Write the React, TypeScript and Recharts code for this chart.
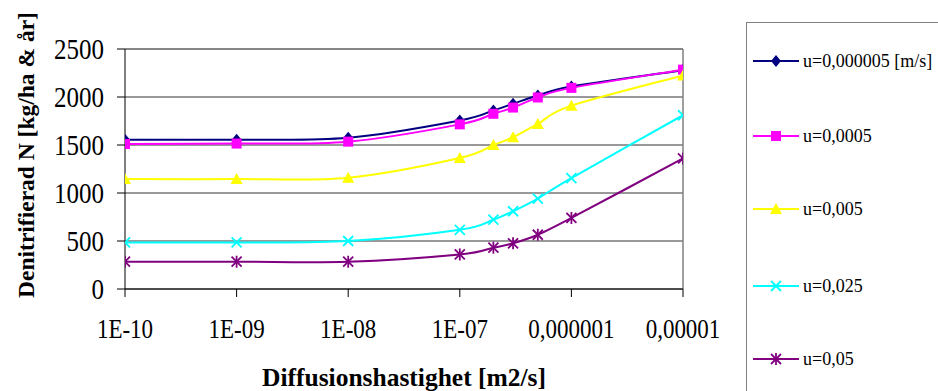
import React from 'react';
import { LineChart, Line, XAxis, YAxis, CartesianGrid, ReferenceLine, Legend, Label } from 'recharts';

const diffusion = [1e-10, 1e-9, 1e-8, 1e-7, 2e-7, 3e-7, 5e-7, 1e-6, 1e-5];
const u000005 = [1555, 1555, 1575, 1755, 1860, 1930, 2015, 2110, 2280];
const u0005 = [1510, 1515, 1535, 1715, 1825, 1890, 1995, 2095, 2285];
const u005 = [1145, 1145, 1160, 1365, 1500, 1580, 1720, 1910, 2225];
const u025 = [485, 485, 500, 617, 722, 810, 942, 1155, 1810];
const u05 = [284, 284, 284, 360, 430, 476, 565, 740, 1360];

const xTicks = [1e-10, 1e-9, 1e-8, 1e-7, 1e-6, 1e-5];
const xTickLabels = ['1E-10', '1E-09', '1E-08', '1E-07', '0,000001', '0,00001'];
const yTicks = [0, 500, 1000, 1500, 2000, 2500];

const seriesNames = ['u=0,000005 [m/s]', 'u=0,0005', 'u=0,005', 'u=0,025', 'u=0,05'];
const seriesKeys = ['s1', 's2', 's3', 's4', 's5'];
const seriesColors = ['#000080', '#FF00FF', '#FFFF00', '#00FFFF', '#800080'];
const seriesShapes = ['diamond', 'square', 'triangle', 'cross', 'star'];

const data = diffusion.map((d, i) => ({
  d,
  s1: u000005[i],
  s2: u0005[i],
  s3: u005[i],
  s4: u025[i],
  s5: u05[i],
}));

const FONT = '"Liberation Serif", "Times New Roman", serif';

// Excel-like smoothing (Catmull-Rom style cubic Bezier)
function excelCurve(context: any) {
  let pts: number[][] = [];
  return {
    areaStart() {},
    areaEnd() {},
    lineStart() {
      pts = [];
    },
    point(x: number, y: number) {
      pts.push([+x, +y]);
    },
    lineEnd() {
      const n = pts.length;
      if (n === 0) return;
      context.moveTo(pts[0][0], pts[0][1]);
      for (let i = 0; i < n - 1; i++) {
        const p0 = pts[Math.max(i - 1, 0)];
        const p1 = pts[i];
        const p2 = pts[i + 1];
        const p3 = pts[Math.min(i + 2, n - 1)];
        const c1x = p1[0] + (p2[0] - p0[0]) / 6;
        const c1y = p1[1] + (p2[1] - p0[1]) / 6;
        const c2x = p2[0] - (p3[0] - p1[0]) / 6;
        const c2y = p2[1] - (p3[1] - p1[1]) / 6;
        context.bezierCurveTo(c1x, c1y, c2x, c2y, p2[0], p2[1]);
      }
    },
  };
}

function Marker({ shape, cx, cy, color }: { shape: string; cx: number; cy: number; color: string }) {
  if (shape === 'diamond') {
    return <polygon points={`${cx},${cy - 6} ${cx + 5},${cy} ${cx},${cy + 6} ${cx - 5},${cy}`} fill={color} />;
  }
  if (shape === 'square') {
    return <rect x={cx - 5} y={cy - 5} width={10} height={10} fill={color} />;
  }
  if (shape === 'triangle') {
    return <polygon points={`${cx},${cy - 6} ${cx + 6},${cy + 5} ${cx - 6},${cy + 5}`} fill={color} />;
  }
  if (shape === 'cross') {
    return (
      <g stroke={color} strokeWidth={1.8}>
        <line x1={cx - 5} y1={cy - 5} x2={cx + 5} y2={cy + 5} />
        <line x1={cx - 5} y1={cy + 5} x2={cx + 5} y2={cy - 5} />
      </g>
    );
  }
  return (
    <g stroke={color} strokeWidth={1.8}>
      <line x1={cx - 5} y1={cy - 5} x2={cx + 5} y2={cy + 5} />
      <line x1={cx - 5} y1={cy + 5} x2={cx + 5} y2={cy - 5} />
      <line x1={cx} y1={cy - 6} x2={cx} y2={cy + 6} />
    </g>
  );
}

const makeDot = (idx: number) => (props: any) => {
  const { cx, cy, index } = props;
  if (cx == null || cy == null) return <g key={`n${idx}-${index}`} />;
  return (
    <g key={`d${idx}-${index}`}>
      <Marker shape={seriesShapes[idx]} cx={cx} cy={cy} color={seriesColors[idx]} />
    </g>
  );
};

const XTick = (props: any) => {
  const { x, y, payload } = props;
  const i = xTicks.findIndex((t) => Math.abs(Math.log10(t) - Math.log10(payload.value)) < 1e-6);
  return (
    <g transform={`translate(${x},${y})`}>
      <text transform="scale(1,1.17)" textAnchor="middle" dy="0.71em" fill="#000" fontFamily={FONT} fontSize={23}>
        {i >= 0 ? xTickLabels[i] : ''}
      </text>
    </g>
  );
};

const YTick = (props: any) => {
  const { x, y, payload } = props;
  return (
    <g transform={`translate(${x},${y})`}>
      <text transform="scale(1,1.17)" textAnchor="end" dy="0.355em" fill="#000" fontFamily={FONT} fontSize={25}>
        {payload.value}
      </text>
    </g>
  );
};

const legendTops = [60, 135, 208, 285, 358];

const renderLegend = () => (
  <div
    style={{
      position: 'relative',
      width: 192,
      height: 369,
      borderLeft: '1px solid #808080',
      borderTop: '1px solid #808080',
      boxSizing: 'border-box',
      fontFamily: FONT,
    }}
  >
    {seriesNames.map((name, i) => (
      <div key={name} style={{ position: 'absolute', left: 6, top: legendTops[i] - 22 - 10, height: 20, display: 'flex', alignItems: 'center', whiteSpace: 'nowrap' }}>
        <svg width={46} height={20} style={{ display: 'block' }}>
          <line x1={0} y1={10} x2={46} y2={10} stroke={seriesColors[i]} strokeWidth={2} />
          <Marker shape={seriesShapes[i]} cx={23} cy={10} color={seriesColors[i]} />
        </svg>
        <span style={{ marginLeft: 4, fontSize: 18, color: '#000', lineHeight: '20px' }}>{name}</span>
      </div>
    ))}
  </div>
);

const renderYLabel = () => (
  <text
    x={26}
    y={155}
    transform="rotate(-90 26 155)"
    textAnchor="middle"
    dominantBaseline="central"
    fontFamily={FONT}
    fontWeight="bold"
    fontSize={23.5}
    fill="#000"
  >
    Denitrifierad N [kg/ha &amp; år]
  </text>
);

const renderXLabel = () => (
  <text
    x={404}
    y={377}
    textAnchor="middle"
    dominantBaseline="central"
    fontFamily={FONT}
    fontWeight="bold"
    fontSize={25.5}
    fill="#000"
  >
    Diffusionshastighet [m2/s]
  </text>
);

export default function App() {
  return (
    <div style={{ position: 'absolute', left: 0, top: 0, width: 938, height: 391, overflow: 'hidden', background: '#fff' }}>
      <LineChart width={938} height={391} data={data} margin={{ top: 49, right: 255, bottom: 0, left: 0 }}>
        <CartesianGrid vertical={false} stroke="#333" strokeDasharray="" />
        <XAxis
          dataKey="d"
          type="number"
          scale="log"
          domain={[1e-10, 1e-5]}
          ticks={xTicks}
          interval={0}
          height={102}
          tickSize={8}
          tickMargin={22}
          axisLine={{ stroke: '#000' }}
          tickLine={{ stroke: '#000' }}
          tick={<XTick />}
          allowDataOverflow
        >
          <Label content={renderXLabel} />
        </XAxis>
        <YAxis
          type="number"
          domain={[0, 2500]}
          ticks={yTicks}
          interval={0}
          width={125}
          tickSize={8}
          tickMargin={13}
          axisLine={{ stroke: '#000' }}
          tickLine={{ stroke: '#000' }}
          tick={<YTick />}
        >
          <Label content={renderYLabel} />
        </YAxis>
        <ReferenceLine y={2500} stroke="#808080" strokeWidth={1.5} />
        <ReferenceLine x={1e-5} stroke="#808080" strokeWidth={1.5} />
        {seriesKeys.map((k, i) => (
          <Line
            key={k}
            dataKey={k}
            name={seriesNames[i]}
            type={excelCurve as any}
            stroke={seriesColors[i]}
            strokeWidth={2}
            dot={makeDot(i)}
            activeDot={false}
            isAnimationActive={false}
          />
        ))}
        <Legend
          layout="vertical"
          align="center"
          verticalAlign="middle"
          content={renderLegend}
          wrapperStyle={{ left: 746, top: 22, width: 192, height: 369 }}
        />
      </LineChart>
    </div>
  );
}
